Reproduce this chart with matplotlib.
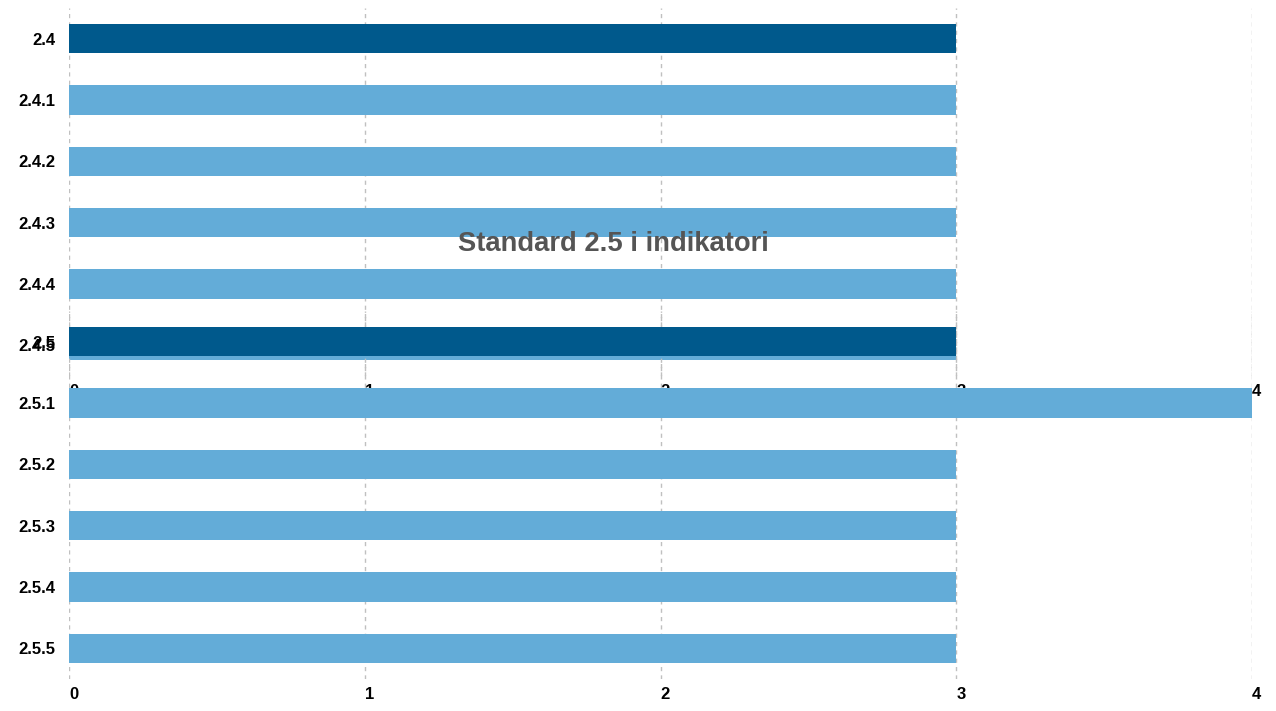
import matplotlib.pyplot as plt

plt.rcParams['font.family'] = ['Liberation Sans', 'DejaVu Sans']

# data
labels_24 = ['2.4', '2.4.1', '2.4.2', '2.4.3', '2.4.4', '2.4.5']
values_24 = [3, 3, 3, 3, 3, 3]
labels_25 = ['2.5', '2.5.1', '2.5.2', '2.5.3', '2.5.4', '2.5.5']
values_25 = [3, 4, 3, 3, 3, 3]
x_ticks = [0, 1, 2, 3, 4]

dark = '#00598c'
light = '#63acd8'

fig = plt.figure(figsize=(12.76, 7.11), dpi=100)

W, H = 1276, 711


def make_axes(top_px, bottom_px):
    return fig.add_axes([69 / W, 1 - bottom_px / H, (1252 - 69) / W, (bottom_px - top_px) / H])


def draw(ax, labels, values, title=None):
    colors = [dark] + [light] * (len(values) - 1)
    ax.barh(range(len(values)), values, height=0.48, color=colors, zorder=2)
    ax.set_ylim(len(values) - 0.5, -0.5)
    ax.set_xlim(0, 4)
    ax.set_yticks(range(len(labels)))
    ax.set_yticklabels(labels, fontsize=12, fontweight='bold')
    ax.set_xticks(x_ticks)
    ax.set_xticklabels([str(t) for t in x_ticks], fontsize=12, fontweight='bold', ha='left')
    ax.tick_params(axis='y', length=0, pad=10)
    ax.tick_params(axis='x', length=0, pad=6)
    ax.grid(axis='x', color='#c0c0c0', linestyle=(0, (3, 3)), linewidth=1, zorder=0)
    for s in ax.spines.values():
        s.set_visible(False)
    ax.patch.set_alpha(0)
    if title:
        ax.text(0.46, 1 + 67 / 368, title, transform=ax.transAxes, ha='center', va='center',
                fontsize=19.7, fontweight='bold', color='#555555')


# top chart (Standard 2.4) drawn first, second chart overlaps it
ax1 = make_axes(8, 376)
draw(ax1, labels_24, values_24)

ax2 = make_axes(311, 679)
draw(ax2, labels_25, values_25, 'Standard 2.5 i indikatori')

fig.savefig('out.png', dpi=100)
